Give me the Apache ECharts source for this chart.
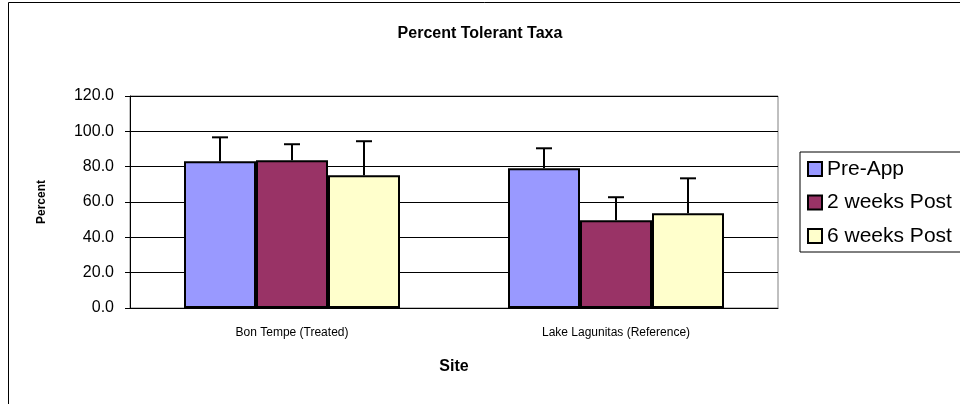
<!DOCTYPE html>
<html>
<head>
<meta charset="utf-8">
<script src="https://cdn.jsdelivr.net/npm/echarts@6/dist/echarts.min.js"></script>
<style>
    html, body { margin: 0; padding: 0; background: #fff; }
    #chart { width: 960px; height: 404px; }
</style>
</head>
<body>
<div id="chart"></div>
<script>
    var sites = ['Bon Tempe (Treated)', 'Lake Lagunitas (Reference)'];
    var seriesNames = ['Pre-App', '2 weeks Post', '6 weeks Post'];
    var seriesColors = ['#9999FF', '#993366', '#FFFFCC'];

    // mean percent per site
    var preApp = [83.0, 79.1];
    var twoWeeks = [83.6, 49.7];
    var sixWeeks = [75.1, 53.7];

    // error (upper) per site
    var preAppErr = [13.6, 11.3];
    var twoWeeksErr = [9.1, 13.0];
    var sixWeeksErr = [19.3, 19.7];

    var yTicks = { min: 0, max: 120, interval: 20 };

    var values = [preApp, twoWeeks, sixWeeks];
    var errors = [preAppErr, twoWeeksErr, sixWeeksErr];

    var chart = echarts.init(document.getElementById('chart'));

    var barGapRatio = 1 / 3;

    var errorData = [];
    values.forEach(function (vals, s) {
        vals.forEach(function (v, c) {
            errorData.push([c, v, errors[s][c], s]);
        });
    });

    var renderError = function (params, api) {
        var c = api.value(0);
        var v = api.value(1);
        var e = api.value(2);
        var s = api.value(3);
        var band = api.size([1, 0])[0];
        var barW = band * (1 - barGapRatio) / 3;
        var base = api.coord([c, v]);
        var top = api.coord([c, v + e]);
        var x = base[0] + (s - 1) * barW;
        var cap = 8;
        var style = { stroke: '#000', lineWidth: 2 };
        return {
            type: 'group',
            children: [
                { type: 'line', shape: { x1: x, y1: base[1], x2: x, y2: top[1] }, style: style },
                { type: 'line', shape: { x1: x - cap, y1: top[1], x2: x + cap, y2: top[1] }, style: style }
            ]
        };
    };

    var series = seriesNames.map(function (name, i) {
        return {
            name: name,
            type: 'bar',
            data: values[i],
            barGap: 0,
            barCategoryGap: (barGapRatio * 100) + '%',
            itemStyle: { color: seriesColors[i], borderColor: '#000', borderWidth: 2 },
            z: 2
        };
    });

    series.push({
        name: 'error',
        type: 'custom',
        renderItem: renderError,
        data: errorData,
        z: 3,
        silent: true
    });

    var option = {
        animation: false,
        textStyle: { fontFamily: '"Liberation Sans", Arial, sans-serif', color: '#000' },
        title: {
            text: 'Percent Tolerant Taxa',
            left: 'center',
            top: 21,
            textStyle: { fontSize: 16, fontWeight: 'bold', color: '#000', fontFamily: '"Liberation Sans", Arial, sans-serif' }
        },
        legend: {
            data: seriesNames,
            orient: 'vertical',
            left: 800,
            top: 152,
            padding: [6.5, 40, 5.5, 7],
            itemGap: 12.5,
            itemWidth: 14,
            itemHeight: 14,
            icon: 'rect',
            borderColor: '#000',
            borderWidth: 1,
            textStyle: { fontSize: 21, color: '#000', lineHeight: 21 }
        },
        graphic: [{
            type: 'rect',
            shape: { x: 8.5, y: 2.5, width: 1000, height: 500 },
            style: { fill: 'none', stroke: '#000', lineWidth: 1 },
            silent: true
        }],
        grid: {
            left: 130,
            right: 182,
            top: 96,
            bottom: 96,
            show: true,
            borderColor: '#808080',
            borderWidth: 1
        },
        xAxis: {
            type: 'category',
            data: sites,
            name: 'Site',
            nameLocation: 'middle',
            nameGap: 51,
            nameTextStyle: { fontSize: 16, fontWeight: 'bold', color: '#000' },
            axisLine: { lineStyle: { color: '#000', width: 1 } },
            axisTick: { length: 5, lineStyle: { color: '#000' } },
            axisLabel: { fontSize: 12, color: '#000', margin: 19 }
        },
        yAxis: {
            type: 'value',
            min: yTicks.min,
            max: yTicks.max,
            interval: yTicks.interval,
            name: 'Percent',
            nameLocation: 'middle',
            nameGap: 82,
            nameTextStyle: { fontSize: 12, fontWeight: 'bold', color: '#000' },
            axisLine: { show: true, lineStyle: { color: '#000', width: 1 } },
            axisTick: { show: true, length: 5, inside: false, lineStyle: { color: '#000' } },
            axisLabel: {
                fontSize: 16,
                color: '#000',
                margin: 16,
                formatter: function (v) { return v.toFixed(1); }
            },
            splitLine: { lineStyle: { color: '#000', width: 1 } }
        },
        series: series
    };

    chart.setOption(option);
</script>
</body>
</html>
